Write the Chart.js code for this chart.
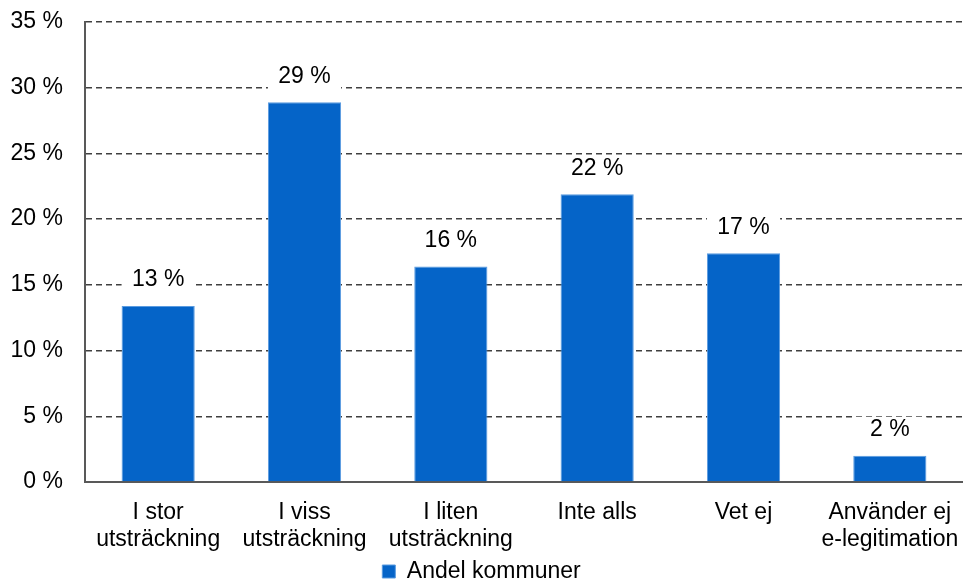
<!DOCTYPE html>
<html lang="sv">
<head>
    <meta charset="UTF-8">
    <title>Andel kommuner</title>
    <script src="https://cdn.jsdelivr.net/npm/chart.js"></script>
    <style>
        body { margin: 0; background: #fff; }
        #wrap { width: 963px; height: 581px; position: relative; }
    </style>
</head>
<body>
    <div id="wrap"><canvas id="myChart"></canvas></div>

    <script>
        const categories = [
            ['I stor', 'utsträckning'],
            ['I viss', 'utsträckning'],
            ['I liten', 'utsträckning'],
            'Inte alls',
            'Vet ej',
            ['Använder ej', 'e-legitimation']
        ];
        const shares = [13.4, 28.9, 16.4, 21.9, 17.4, 2.0];
        const seriesName = 'Andel kommuner';

        const FONT = 'Liberation Sans, Arial, sans-serif';

        // value labels above each bar, on a white patch that hides the grid
        const barLabels = {
            id: 'barLabels',
            afterDatasetsDraw(chart) {
                const ctx = chart.ctx;
                const meta = chart.getDatasetMeta(0);
                ctx.save();
                ctx.font = '23px ' + FONT;
                ctx.textAlign = 'center';
                ctx.textBaseline = 'middle';
                meta.data.forEach((bar, i) => {
                    const txt = Math.round(shares[i]) + ' %';
                    const w = bar.width;
                    const y = bar.y - 26;
                    ctx.fillStyle = '#fff';
                    ctx.fillRect(bar.x - w / 2, y - 13, w, 26);
                    ctx.fillStyle = '#000';
                    ctx.fillText(txt, bar.x, y);
                });
                ctx.restore();
            }
        };

        new Chart(document.getElementById('myChart'), {
            type: 'bar',
            data: {
                labels: categories,
                datasets: [{
                    label: seriesName,
                    data: shares,
                    backgroundColor: '#0564C8',
                    borderColor: '#5A9BE0',
                    borderWidth: 1,
                    categoryPercentage: 1,
                    barPercentage: 0.5
                }]
            },
            options: {
                responsive: true,
                maintainAspectRatio: false,
                animation: false,
                layout: { padding: { top: 22, right: 0, left: 0, bottom: -12 } },
                plugins: {
                    tooltip: { enabled: false },
                    legend: {
                        position: 'bottom',
                        labels: {
                            boxWidth: 13,
                            boxHeight: 13,
                            padding: 1,
                            color: '#000',
                            font: { family: FONT, size: 23 }
                        }
                    }
                },
                scales: {
                    x: {
                        afterFit(scale) {
                            scale.height = 77;
                            scale.paddingLeft = 0;
                            scale.paddingRight = 0;
                        },
                        grid: { display: false },
                        border: { display: true, color: '#595959', width: 2 },
                        ticks: {
                            color: '#000',
                            padding: 9,
                            maxRotation: 0,
                            autoSkip: false,
                            font: { family: FONT, size: 23, lineHeight: 1.17 }
                        }
                    },
                    y: {
                        min: 0,
                        max: 35,
                        afterFit(scale) {
                            scale.width = 85;
                            scale.paddingTop = 0;
                            scale.paddingBottom = 0;
                        },
                        grid: {
                            color: '#404040',
                            lineWidth: 1.5,
                            drawTicks: false
                        },
                        border: { display: true, color: '#595959', width: 2, dash: [6, 4] },
                        ticks: {
                            stepSize: 5,
                            color: '#000',
                            padding: 22,
                            font: { family: FONT, size: 23 },
                            callback: v => v + ' %'
                        }
                    }
                }
            },
            plugins: [barLabels]
        });
    </script>
</body>
</html>
